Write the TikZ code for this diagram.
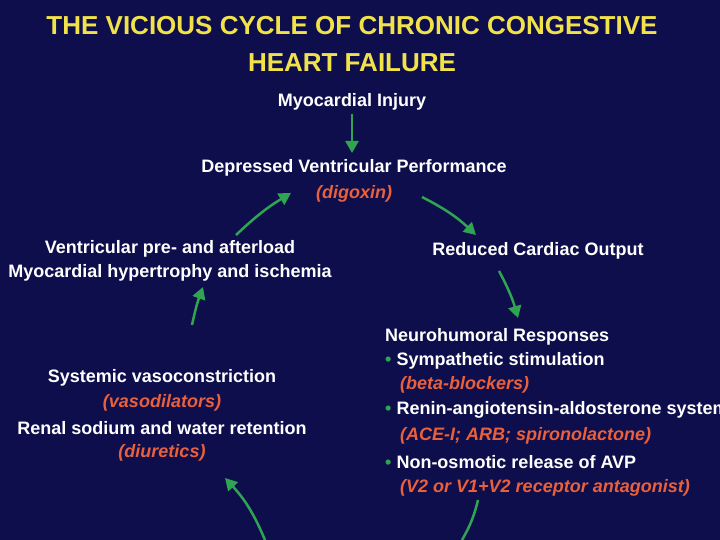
\documentclass[tikz,border=0pt]{standalone}
\usepackage{fontspec}
\setmainfont{Liberation Sans}
\usetikzlibrary{arrows.meta}
\definecolor{bg}{HTML}{0E0E4C}
\definecolor{ttl}{HTML}{F2E24A}
\definecolor{drug}{HTML}{E8603C}
\definecolor{arr}{HTML}{2FA552}
\begin{document}
\begin{tikzpicture}[x=1pt,y=-1pt,
  txt/.style={text=white,font=\bfseries\fontsize{18}{21}\selectfont,inner sep=0pt},
  drg/.style={text=drug,font=\bfseries\itshape\fontsize{18}{21}\selectfont,inner sep=0pt},
  ttlst/.style={text=ttl,font=\bfseries\fontsize{26}{30}\selectfont,inner sep=0pt},
  cyc/.style={draw=arr,line width=2.5pt,-{Triangle[length=12pt,width=13pt]}}]
\fill[bg] (0,0) rectangle (720,540);
\useasboundingbox (0,0) rectangle (720,540);
\newcommand{\gb}{\textcolor{arr}{\textbullet}\ }
\node[ttlst] (t1) at (352,26) {THE VICIOUS CYCLE OF CHRONIC CONGESTIVE};
\node[ttlst] (t2) at (352,63) {HEART FAILURE};
\node[txt] (mi) at (352,102) {Myocardial Injury};
\node[txt] (dvp) at (354,168) {Depressed Ventricular Performance};
\node[drg] (dig) at (354,194) {(digoxin)};
\node[txt] (rco) at (538,251) {Reduced Cardiac Output};
\node[txt,anchor=west] (nh) at (385,337) {Neurohumoral Responses};
\node[txt,anchor=west] (b1) at (385,361) {\gb Sympathetic stimulation};
\node[drg,anchor=west] (d1) at (400,385) {(beta-blockers)};
\node[txt,anchor=west] (b2) at (385,410) {\gb Renin-angiotensin-aldosterone system};
\node[drg,anchor=west] (d2) at (400,436) {(ACE-I; ARB; spironolactone)};
\node[txt,anchor=west] (b3) at (385,462) {\gb Non-osmotic release of AVP};
\node[drg,anchor=west] (d3) at (400,488) {(V2 or V1+V2 receptor antagonist)};
\node[txt] (vp) at (170,249) {Ventricular pre- and afterload};
\node[txt] (mh) at (170,273) {Myocardial hypertrophy and ischemia};
\node[txt] (sv) at (162,378) {Systemic vasoconstriction};
\node[drg] (vd) at (162,403) {(vasodilators)};
\node[txt] (rs) at (162,428) {Renal sodium and water retention};
\node[drg] (du) at (162,453) {(diuretics)};
\coordinate (a0) at (352,114); \coordinate (a1) at (352,153);
\draw[cyc] (a0) -- (a1);
\coordinate (a2) at (422,197); \coordinate (a3) at (476,235);
\draw[cyc] (a2) to[bend left=8] (a3);
\coordinate (a4) at (499,271); \coordinate (a5) at (518,318);
\draw[cyc] (a4) to[bend left=6] (a5);
\coordinate (a6) at (236,235); \coordinate (a7) at (291,193);
\draw[cyc] (a6) to[bend left=6] (a7);
\coordinate (a8) at (192,325); \coordinate (a9) at (203,287);
\draw[cyc] (a8) to[bend left=4] (a9);
\coordinate (a10) at (265,540); \coordinate (a11) at (225,478);
\draw[cyc] (a10) to[bend right=10] (a11);
\coordinate (a12) at (478,500); \coordinate (a13) at (462,540);
\draw[draw=arr,line width=2.5pt] (a12) to[bend left=8] (a13);
\end{tikzpicture}
\end{document}
